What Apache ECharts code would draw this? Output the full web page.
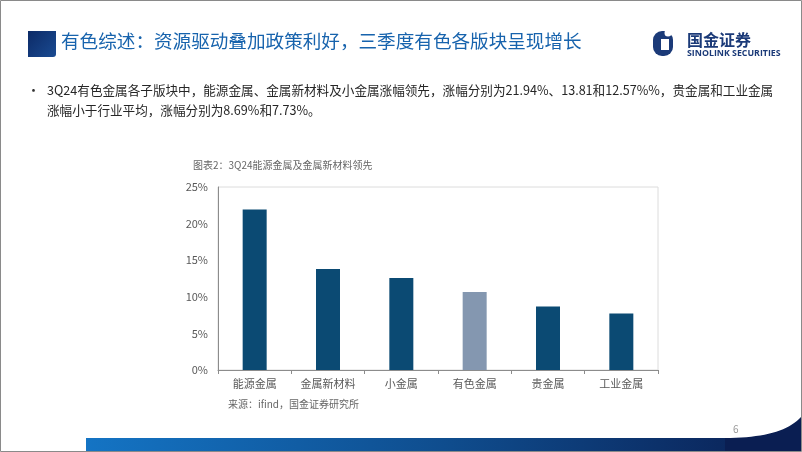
<!DOCTYPE html>
<html><head><meta charset="utf-8">
<script src="https://cdn.jsdelivr.net/npm/echarts@6/dist/echarts.min.js"></script>
<style>html,body{margin:0;padding:0;background:#fff}#c{width:802px;height:452px}</style>
</head><body><div id="c"></div>
<script>
const categories = ['能源金属','金属新材料','小金属','有色金属','贵金属','工业金属'];
const values = [21.94, 13.81, 12.57, 10.65, 8.69, 7.73];
const highlight = [false, false, false, true, false, false];
const yTicks = [0, 5, 10, 15, 20, 25];

const titleText = '有色综述：资源驱动叠加政策利好，三季度有色各版块呈现增长';
const bullet1 = '3Q24有色金属各子版块中，能源金属、金属新材料及小金属涨幅领先，涨幅分别为21.94%、13.81和12.57%%，贵金属和工业金属';
const bullet2 = '涨幅小于行业平均，涨幅分别为8.69%和7.73%。';
const chartCaption = '图表2：3Q24能源金属及金属新材料领先';
const sourceText = '来源：ifind，国金证券研究所';

const FONT = '"Noto Sans CJK SC", "Noto Sans", sans-serif';
function txt(x, y, text, font, fill) {
  return {type: 'text', x: x, y: y, style: {text: text, font: font, fill: fill, textVerticalAlign: 'top'}};
}
const curvePts = [];
for (let i = 0; i <= 20; i++) {
  const t = i / 20;
  const px = (1-t)*(1-t)*725 + 2*(1-t)*t*782 + t*t*801;
  const py = (1-t)*(1-t)*438 + 2*(1-t)*t*438 + t*t*417;
  curvePts.push([px, py]);
}
curvePts.push([801, 451], [725, 451]);

const chart = echarts.init(document.getElementById('c'), null, {renderer: 'canvas'});
chart.setOption({
  backgroundColor: '#fff',
  animation: false,
  grid: {left: 218, right: 144, top: 187, bottom: 82, show: true, borderColor: '#dcdcdc', borderWidth: 1},
  xAxis: {
    type: 'category', data: categories,
    axisLine: {lineStyle: {color: '#8c8c8c', width: 1}},
    axisTick: {show: true, length: 4, lineStyle: {color: '#8c8c8c'}},
    axisLabel: {color: '#595959', fontSize: 11, fontFamily: FONT, margin: 8}
  },
  yAxis: {
    type: 'value', min: yTicks[0], max: yTicks[yTicks.length-1], interval: 5,
    splitLine: {show: false},
    axisLine: {show: true, lineStyle: {color: '#8c8c8c', width: 1}},
    axisTick: {show: false},
    axisLabel: {color: '#595959', fontSize: 11, fontFamily: FONT, formatter: '{value}%', margin: 10}
  },
  series: [{
    type: 'bar', barWidth: 24,
    data: values.map((v, i) => ({value: v, itemStyle: {color: highlight[i] ? '#8497b0' : '#0b4a73'}}))
  }],
  graphic: [
    {type: 'rect', shape: {x: 0.5, y: 0.5, width: 801, height: 451}, style: {fill: 'none', stroke: '#8a8a8a', lineWidth: 1}, z: 100},
    {type: 'rect', shape: {x: 28, y: 31, width: 28, height: 26, r: [0,0,3,0]},
      style: {fill: {type: 'linear', x: 0, y: 0, x2: 1, y2: 1, colorStops: [{offset:0,color:'#0c2a66'},{offset:1,color:'#1a4b92'}]}}},
    txt(61, 32, titleText, '18.6px ' + FONT, '#1763ad'),
    {type: 'rect', shape: {x: 653, y: 31, width: 20, height: 25, r: 9}, style: {fill: '#1b3a78'}},
    {type: 'rect', shape: {x: 661, y: 39, width: 8, height: 11}, style: {fill: '#fff'}},
    {type: 'circle', shape: {cx: 668, cy: 33, r: 3.5}, style: {fill: '#fff'}},
    txt(687, 32, '国金证券', 'bold 16px ' + FONT, '#1b3a78'),
    txt(687, 49, 'SINOLINK SECURITIES', 'bold 8.8px "Open Sans", sans-serif', '#1b3a78'),
    txt(27, 84, '•', '13px ' + FONT, '#333'),
    txt(47, 84, bullet1, '12.6px ' + FONT, '#262626'),
    txt(47, 104, bullet2, '12.6px ' + FONT, '#262626'),
    txt(193, 160, chartCaption, '10px ' + FONT, '#666'),
    txt(228, 399, sourceText, '10px ' + FONT, '#666'),
    txt(733, 424, '6', '10px ' + FONT, '#999'),
    {type: 'rect', shape: {x: 86, y: 438, width: 716, height: 13},
      style: {fill: {type: 'linear', x: 0, y: 0, x2: 1, y2: 0, colorStops: [{offset:0,color:'#1474c4'},{offset:0.5,color:'#0f4d8e'},{offset:1,color:'#0a1e52'}]}}},
    {type: 'polygon', shape: {points: curvePts}, style: {fill: '#0a1e52'}}
  ]
});
</script></body></html>
